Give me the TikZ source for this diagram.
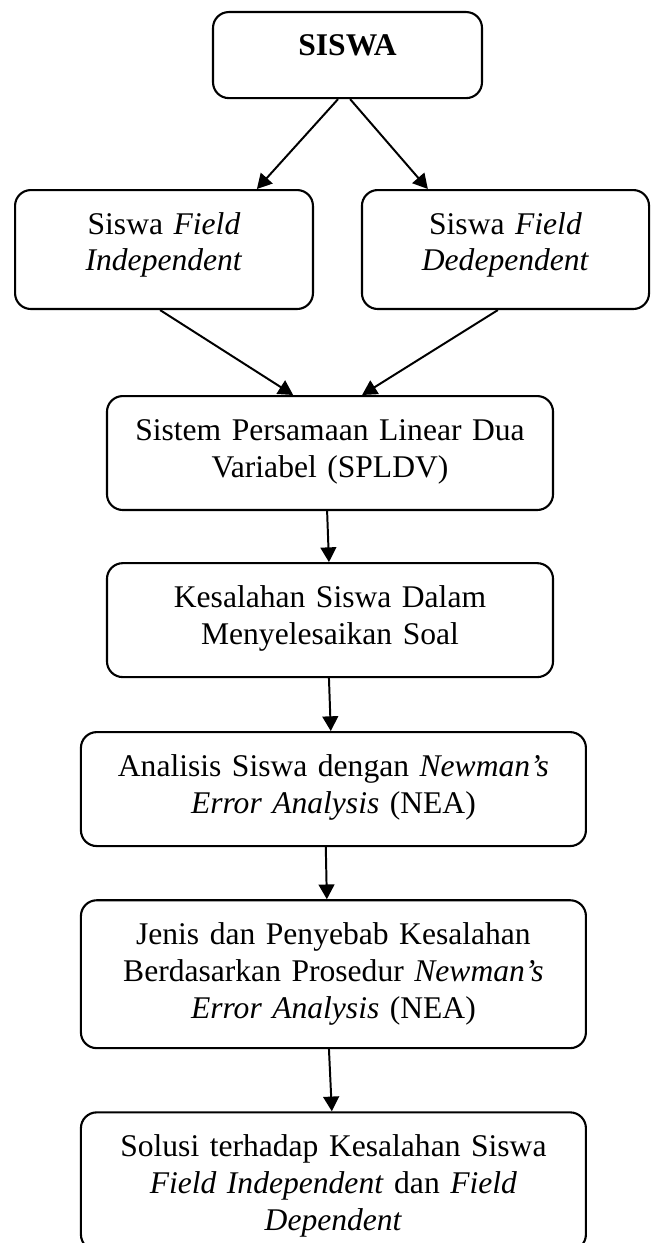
\documentclass[tikz,border=0pt]{standalone}
\usepackage{fontspec}
\setmainfont{Liberation Serif}
\usetikzlibrary{arrows.meta, positioning}
\tikzset{
	kotak/.style={draw=black, line width=0.8pt, rounded corners=6pt, inner sep=0pt, align=center, text height=16.7pt, font=\fontsize{12}{14.06}\selectfont},
	panah/.style={-{Triangle[length=5.6pt, width=6pt]}, line width=0.75pt},
}
\begin{document}
\begin{tikzpicture}[x=0.38pt, y=-0.38pt]
	\useasboundingbox (0,0) rectangle (651,1243);
	\node[kotak, anchor=north, text width=102.2pt, text depth=16pt] (siswa) at (347.5,11) {\textbf{SISWA}};
	\node[kotak, anchor=north, text width=113.2pt, text depth=28.5pt] (fi) at (164,189) {Siswa \textit{Field}\\ \textit{Independent}};
	\node[kotak, anchor=north, text width=109.1pt, text depth=28.5pt] (fd) at (505.5,189) {Siswa \textit{Field}\\ \textit{Dedependent}};
	\node[kotak, anchor=north, text width=169.5pt, text depth=26.6pt] (spldv) at (330,395) {Sistem Persamaan Linear Dua\\ Variabel (SPLDV)};
	\node[kotak, text width=169.5pt, text depth=26.6pt, below=19.4pt of spldv] (salah) {Kesalahan Siswa Dalam\\ Menyelesaikan Soal};
	\node[kotak, text width=191.9pt, text depth=26.6pt, below=20.1pt of salah, xshift=1.3pt] (nea) {Analisis Siswa dengan \textit{Newman’s}\\ \textit{Error Analysis} (NEA)};
	\node[kotak, text width=191.9pt, text depth=39.5pt, below=19.8pt of nea] (jenis) {Jenis dan Penyebab Kesalahan\\ Berdasarkan Prosedur \textit{Newman’s}\\ \textit{Error Analysis} (NEA)};
	\node[kotak, text width=191.9pt, text depth=35.7pt, below=23.6pt of jenis] (solusi) {Solusi terhadap Kesalahan Siswa\\ \textit{Field Independent} dan \textit{Field}\\ \textit{Dependent}};
	% panah
	\draw[panah] ([xshift=-3.6pt]siswa.south) -- ([xshift=35.3pt]fi.north);
	\draw[panah] ([xshift=1pt]siswa.south) -- ([xshift=-29.5pt]fd.north);
	\draw[panah] ([xshift=-1.5pt]fi.south) -- ([xshift=-14pt]spldv.north);
	\draw[panah] ([xshift=-2.9pt]fd.south) -- ([xshift=12.2pt]spldv.north);
	\draw[panah] ([xshift=-1.1pt]spldv.south) -- ([xshift=-0.4pt]salah.north);
	\draw[panah] ([xshift=-0.4pt]salah.south) -- ([xshift=-1pt]nea.north);
	\draw[panah] ([xshift=-2.9pt]nea.south) -- ([xshift=-2.5pt]jenis.north);
	\draw[panah] ([xshift=-1.7pt]jenis.south) -- ([xshift=-0.6pt]solusi.north);
\end{tikzpicture}
\end{document}
